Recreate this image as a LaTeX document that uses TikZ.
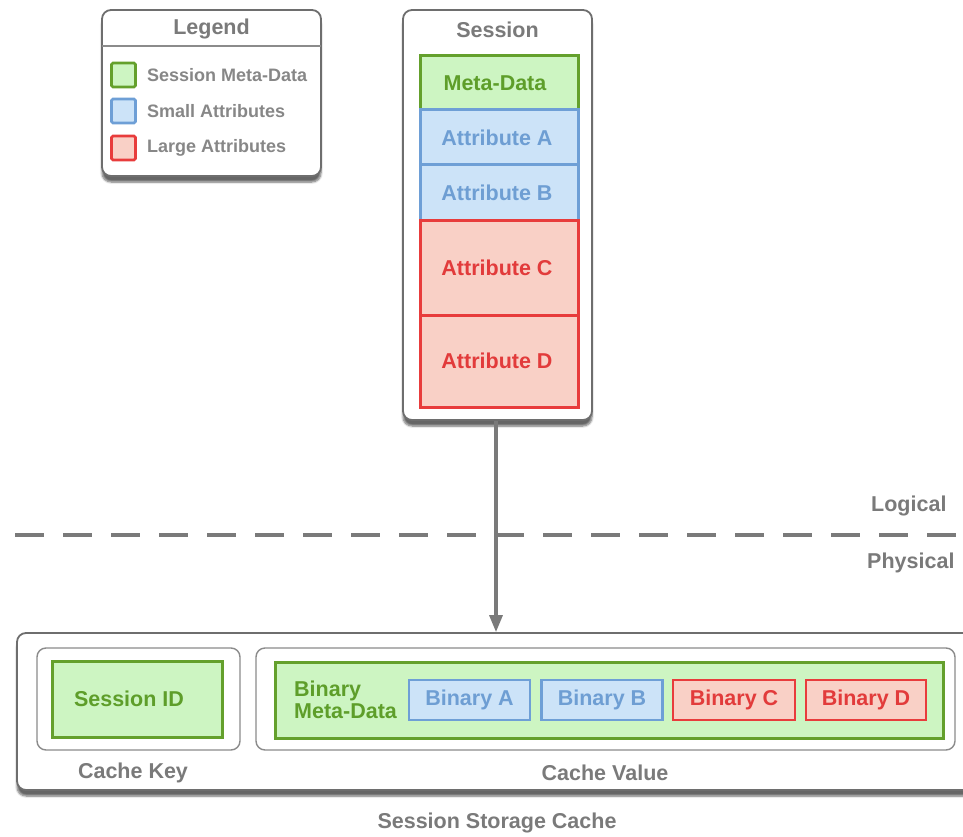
\documentclass[tikz,border=0pt]{standalone}
\usepackage{fontspec}
\setmainfont{Liberation Sans}
\usetikzlibrary{shadows.blur,arrows.meta}
\definecolor{grntxt}{HTML}{5E9E2A}
\definecolor{grnline}{HTML}{64A02C}
\definecolor{grnfill}{HTML}{CDF5C2}
\definecolor{blutxt}{HTML}{6E9ED3}
\definecolor{bluline}{HTML}{6E9FD6}
\definecolor{blufill}{HTML}{CCE3F8}
\definecolor{redtxt}{HTML}{E23B3B}
\definecolor{redline}{HTML}{E83C3C}
\definecolor{redfill}{HTML}{F9D0C6}
\definecolor{graytxt}{HTML}{7A7A7A}
\definecolor{boxline}{HTML}{6E6E6E}
\tikzset{
  bigfont/.style={font=\fontsize{21.5}{25}\selectfont\bfseries},
  smallfont/.style={font=\fontsize{18}{22}\selectfont\bfseries},
  panel/.style={draw=boxline, line width=1.8pt, fill=white, rounded corners=9pt,
    blur shadow={shadow xshift=0pt, shadow yshift=-6pt, shadow blur steps=6, shadow opacity=60}},
  subpanel/.style={draw=boxline!80, line width=1.4pt, fill=white, rounded corners=9pt},
  cell/.style={rectangle, line width=3pt, inner sep=0pt, bigfont},
  green cell/.style={cell, draw=grnline, fill=grnfill, text=grntxt},
  blue cell/.style={cell, draw=bluline, fill=blufill, text=blutxt},
  red cell/.style={cell, draw=redline, fill=redfill, text=redtxt},
  swatch/.style={rectangle, line width=2.6pt, minimum size=24pt, inner sep=0pt, rounded corners=1.5pt},
  caption/.style={bigfont, text=graytxt},
  legendtext/.style={smallfont, text=graytxt!90, anchor=west, inner sep=0pt},
}
\begin{document}
\begin{tikzpicture}[x=1pt,y=-1pt]
\useasboundingbox (0,0) rectangle (963,837);
\clip (0,0) rectangle (963,837);

% legend
\node[panel, minimum width=219pt, minimum height=166pt] (legend) at (211.5,93) {};
\draw[boxline!80, line width=1.4pt] (102,46) -- (321,46);
\node[caption] (legendtitle) at (211.5,29) {Legend};
\node[swatch, draw=grnline, fill=grnfill] (sw1) at (123.5,75) {};
\node[swatch, draw=bluline, fill=blufill] (sw2) at (123.5,111) {};
\node[swatch, draw=redline, fill=redfill] (sw3) at (123.5,148) {};
\node[legendtext] (lt1) at (147,75) {Session Meta-Data};
\node[legendtext] (lt2) at (147,111) {Small Attributes};
\node[legendtext] (lt3) at (147,148) {Large Attributes};

% logical session
\node[panel, minimum width=189pt, minimum height=410pt] (session) at (497.5,215) {};
\node[caption] (sessiontitle) at (497.5,30) {Session};
\node[green cell, minimum width=158pt, minimum height=54pt] (meta) at (499,83) {Meta-Data\hspace*{8pt}};
\node[blue cell, minimum width=158pt, minimum height=55pt] (attrA) at (499,137.5) {Attribute A\hspace*{4pt}};
\node[blue cell, minimum width=158pt, minimum height=55pt] (attrB) at (499,192.5) {Attribute B\hspace*{4pt}};
\node[red cell, minimum width=158pt, minimum height=95pt] (attrC) at (499,267.5) {Attribute C\hspace*{4pt}};
\node[red cell, minimum width=158pt, minimum height=92pt] (attrD) at (499,361) {Attribute D\hspace*{4pt}};

% logical / physical divider
\coordinate (divL) at (15,535);
\coordinate (divR) at (963,535);
\draw[graytxt, line width=3.8pt, dash pattern=on 29pt off 19pt] (divL) -- (divR);
\node[caption, anchor=east] (logical) at (950,506) {Logical};
\node[caption, anchor=east] (physical) at (958,563) {Physical};

% physical storage
\node[panel, minimum width=958pt, minimum height=157pt] (storage) at (496,711.5) {};
\node[caption] (storagelabel) at (497,823) {Session Storage Cache};

\node[subpanel, minimum width=203pt, minimum height=102pt] (keybox) at (138.5,699) {};
\node[green cell, minimum width=170pt, minimum height=76pt] (sessionid) at (137,699) {Session ID\hspace*{16pt}};
\node[caption] (keylabel) at (133,773) {Cache Key};

\node[subpanel, minimum width=699pt, minimum height=102pt] (valuebox) at (605.5,699) {};
\node[green cell, minimum width=668pt, minimum height=76pt] (binmeta) at (609,700) {};
\node[bigfont, text=grntxt, align=left, anchor=west, inner sep=0pt] (binmetatext) at (294,700) {Binary\\[-3pt]Meta-Data};
\node[blue cell, line width=2.4pt, minimum width=121pt, minimum height=40pt] (binA) at (469.5,700) {Binary A};
\node[blue cell, line width=2.4pt, minimum width=121pt, minimum height=40pt] (binB) at (602,700) {Binary B};
\node[red cell, line width=2.4pt, minimum width=122pt, minimum height=40pt] (binC) at (734,700) {Binary C};
\node[red cell, line width=2.4pt, minimum width=120pt, minimum height=40pt] (binD) at (866,700) {Binary D};
\node[caption] (valuelabel) at (605,773) {Cache Value};

% serialisation arrow
\draw[graytxt, line width=3.2pt, -{Triangle[length=17pt,width=13pt]}]
  ([xshift=-1.5pt]session.south) -- ([xshift=-1.5pt]session.south |- storage.north);
\end{tikzpicture}
\end{document}
